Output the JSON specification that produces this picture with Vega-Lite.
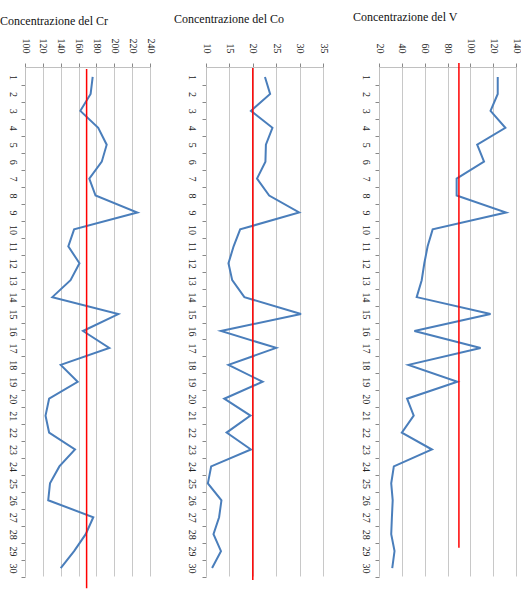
{
  "$schema": "https://vega.github.io/schema/vega-lite/v6.json",
  "padding": {"left": 0, "top": 10, "right": 0, "bottom": 0},
  "background": "white",
  "bounds": "flush",
  "spacing": 56,
  "config": {
    "font": "Liberation Serif",
    "view": {"stroke": null},
    "axis": {"labelFont": "Liberation Serif", "labelFontSize": 10, "labelColor": "#222222", "gridColor": "#c8c8c8", "domainColor": "#c0c0c0", "tickColor": "#888888", "title": null, "labelOverlap": false, "labelBound": false},
    "title": {"font": "Liberation Serif", "fontSize": 12, "fontWeight": "normal", "anchor": "start", "frame": "group", "color": "#111111"}
  },
  "datasets": {
    "cr": [
      {"row": 1, "value": 175.8}, {"row": 2, "value": 173.5}, {"row": 3, "value": 162}, {"row": 4, "value": 182}, {"row": 5, "value": 191.5},
      {"row": 6, "value": 186}, {"row": 7, "value": 172}, {"row": 8, "value": 179}, {"row": 9, "value": 225.8}, {"row": 10, "value": 155},
      {"row": 11, "value": 148.5}, {"row": 12, "value": 161}, {"row": 13, "value": 151}, {"row": 14, "value": 130.6}, {"row": 15, "value": 204.5},
      {"row": 16, "value": 165}, {"row": 17, "value": 194.4}, {"row": 18, "value": 140}, {"row": 19, "value": 159}, {"row": 20, "value": 127},
      {"row": 21, "value": 123}, {"row": 22, "value": 127}, {"row": 23, "value": 156}, {"row": 24, "value": 138.5}, {"row": 25, "value": 128},
      {"row": 26, "value": 126}, {"row": 27, "value": 176.5}, {"row": 28, "value": 168}, {"row": 29, "value": 155}, {"row": 30, "value": 140}
    ],
    "co": [
      {"row": 1, "value": 22.6}, {"row": 2, "value": 23.7}, {"row": 3, "value": 19.6}, {"row": 4, "value": 24.2}, {"row": 5, "value": 22.8},
      {"row": 6, "value": 22.7}, {"row": 7, "value": 20.9}, {"row": 8, "value": 23.5}, {"row": 9, "value": 29.9}, {"row": 10, "value": 17.3},
      {"row": 11, "value": 15.9}, {"row": 12, "value": 14.8}, {"row": 13, "value": 15.6}, {"row": 14, "value": 18.2}, {"row": 15, "value": 30.3},
      {"row": 16, "value": 13.2}, {"row": 17, "value": 25.0}, {"row": 18, "value": 14.8}, {"row": 19, "value": 22.1}, {"row": 20, "value": 13.9},
      {"row": 21, "value": 19.5}, {"row": 22, "value": 14.4}, {"row": 23, "value": 19.6}, {"row": 24, "value": 11.1}, {"row": 25, "value": 10.4},
      {"row": 26, "value": 13.3}, {"row": 27, "value": 12.8}, {"row": 28, "value": 11.6}, {"row": 29, "value": 13.2}, {"row": 30, "value": 11.3}
    ],
    "v": [
      {"row": 1, "value": 124}, {"row": 2, "value": 124}, {"row": 3, "value": 117.7}, {"row": 4, "value": 130.7}, {"row": 5, "value": 106},
      {"row": 6, "value": 112}, {"row": 7, "value": 88}, {"row": 8, "value": 88}, {"row": 9, "value": 131.3}, {"row": 10, "value": 67},
      {"row": 11, "value": 62.6}, {"row": 12, "value": 59.7}, {"row": 13, "value": 57.4}, {"row": 14, "value": 53}, {"row": 15, "value": 117.7},
      {"row": 16, "value": 51}, {"row": 17, "value": 109}, {"row": 18, "value": 45.8}, {"row": 19, "value": 88.7}, {"row": 20, "value": 44.6},
      {"row": 21, "value": 50.4}, {"row": 22, "value": 40}, {"row": 23, "value": 66.4}, {"row": 24, "value": 33}, {"row": 25, "value": 30.7},
      {"row": 26, "value": 32}, {"row": 27, "value": 31.3}, {"row": 28, "value": 30.7}, {"row": 29, "value": 33.6}, {"row": 30, "value": 31.6}
    ]
  },
  "hconcat": [
    {
      "width": 125, "height": 509,
      "title": {"text": "Concentrazione del Cr", "dx": -25, "offset": 10},
      "encoding": {
        "x": {"field": "value", "type": "quantitative", "scale": {"domain": [100, 240], "nice": false, "zero": false},
          "axis": {"orient": "top", "values": [100, 120, 140, 160, 180, 200, 220, 240], "labelAngle": 90, "labelPadding": 10, "tickSize": 4, "grid": true, "labelOverlap": false, "labelFlush": false}},
        "y": {"field": "row", "type": "quantitative", "scale": {"domain": [0.41, 30.47], "reverse": true, "nice": false, "zero": false},
          "axis": {"values": [1,2,3,4,5,6,7,8,9,10,11,12,13,14,15,16,17,18,19,20,21,22,23,24,25,26,27,28,29,30], "labelAngle": 90, "tickOffset": 8.5, "labelOffset": -8.5, "grid": false, "tickSize": 4, "labelPadding": 4, "labelOverlap": false, "labelFlush": false}}
      },
      "layer": [
        {"data": {"name": "cr"}, "mark": {"type": "line", "color": "#4a7ebb", "strokeWidth": 2}, "encoding": {"order": {"field": "row", "type": "quantitative"}}},
        {"data": {"values": [{"value": 169, "row": 0.53, "row_end": 31.2}]}, "mark": {"type": "rule", "color": "#ff0000", "strokeWidth": 1.5}, "encoding": {"y2": {"field": "row_end"}}}
      ]
    },
    {
      "width": 117, "height": 509,
      "title": {"text": "Concentrazione del Co", "dx": -32, "offset": 17},
      "encoding": {
        "x": {"field": "value", "type": "quantitative", "scale": {"domain": [10, 35], "nice": false, "zero": false},
          "axis": {"orient": "top", "values": [10, 15, 20, 25, 30, 35], "labelAngle": 90, "labelPadding": 10, "tickSize": 4, "grid": true, "labelOverlap": false, "labelFlush": false}},
        "y": {"field": "row", "type": "quantitative", "scale": {"domain": [0.41, 30.47], "reverse": true, "nice": false, "zero": false},
          "axis": {"values": [1,2,3,4,5,6,7,8,9,10,11,12,13,14,15,16,17,18,19,20,21,22,23,24,25,26,27,28,29,30], "labelAngle": 90, "tickOffset": 8.5, "labelOffset": -8.5, "grid": false, "tickSize": 4, "labelPadding": 6, "labelOverlap": false, "labelFlush": false}}
      },
      "layer": [
        {"data": {"name": "co"}, "mark": {"type": "line", "color": "#4a7ebb", "strokeWidth": 2}, "encoding": {"order": {"field": "row", "type": "quantitative"}}},
        {"data": {"values": [{"value": 20, "row": 0.47, "row_end": 30.7}]}, "mark": {"type": "rule", "color": "#ff0000", "strokeWidth": 1.5}, "encoding": {"y2": {"field": "row_end"}}}
      ]
    },
    {
      "width": 137, "height": 509,
      "title": {"text": "Concentrazione del V", "dx": -26, "offset": 14},
      "encoding": {
        "x": {"field": "value", "type": "quantitative", "scale": {"domain": [20, 140], "nice": false, "zero": false},
          "axis": {"orient": "top", "values": [20, 40, 60, 80, 100, 120, 140], "labelAngle": 90, "labelPadding": 10, "tickSize": 4, "grid": true, "labelOverlap": false, "labelFlush": false}},
        "y": {"field": "row", "type": "quantitative", "scale": {"domain": [0.41, 30.47], "reverse": true, "nice": false, "zero": false},
          "axis": {"values": [1,2,3,4,5,6,7,8,9,10,11,12,13,14,15,16,17,18,19,20,21,22,23,24,25,26,27,28,29,30], "labelAngle": 90, "tickOffset": 8.5, "labelOffset": -8.5, "grid": false, "tickSize": 4, "labelPadding": 5, "labelOverlap": false, "labelFlush": false}}
      },
      "layer": [
        {"data": {"name": "v"}, "mark": {"type": "line", "color": "#4a7ebb", "strokeWidth": 2}, "encoding": {"order": {"field": "row", "type": "quantitative"}}},
        {"data": {"values": [{"value": 90, "row": 0.18, "row_end": 28.8}]}, "mark": {"type": "rule", "color": "#ff0000", "strokeWidth": 1.5}, "encoding": {"y2": {"field": "row_end"}}}
      ]
    }
  ]
}
